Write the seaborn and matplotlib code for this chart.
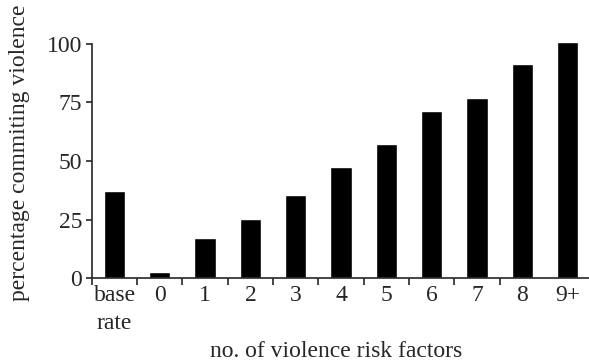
import numpy as np
import pandas as pd
import matplotlib
matplotlib.use('Agg')
import matplotlib.pyplot as plt
import seaborn as sns

categories = ['base\nrate', '0', '1', '2', '3', '4', '5', '6', '7', '8', '9+']
percent_violent = [37, 2.4, 17, 25.3, 35.5, 47.6, 57.1, 71.4, 77, 91.3, 101]

df = pd.DataFrame({'factors': categories, 'percent': percent_violent})

sns.set_style('ticks')
plt.rcParams['font.family'] = ['Liberation Serif', 'DejaVu Serif']

fig = plt.figure(figsize=(5.89, 3.63), dpi=100)
ax = fig.add_axes([0.156, 0.234, 0.846, 0.658])

sns.barplot(data=df, x='factors', y='percent', color='black', width=0.47,
            saturation=1, ax=ax)

ax.set_xlim(-0.5, len(categories) - 0.5)
ax.set_ylim(0, 102)
ax.set_yticks([0, 25, 50, 75, 100])
ax.spines['left'].set_bounds(0, 100)
ax.spines['top'].set_visible(False)
ax.spines['right'].set_visible(False)
for s in ['left', 'bottom']:
    ax.spines[s].set_linewidth(1.2)

# ticks at category boundaries, labels under bar centres
ax.set_xticks(np.arange(len(categories) - 1) - 0.5, minor=True)
ax.tick_params(axis='x', which='major', length=0, pad=5, labelsize=17)
ax.tick_params(axis='x', which='minor', length=5, width=1.2, direction='out', bottom=True)
ax.tick_params(axis='y', length=4, width=1.2, labelsize=17, pad=3)
for lab in ax.get_xticklabels():
    lab.set_linespacing(1.45)
    lab.set_verticalalignment('top')

ax.set_xlabel('no. of violence risk factors', fontsize=17)
ax.set_ylabel('percentage commiting violence', fontsize=17)
ax.xaxis.set_label_coords(0.49, -0.265)
ax.yaxis.set_label_coords(-0.125, 0.525)

fig.savefig('out.png', dpi=100)
